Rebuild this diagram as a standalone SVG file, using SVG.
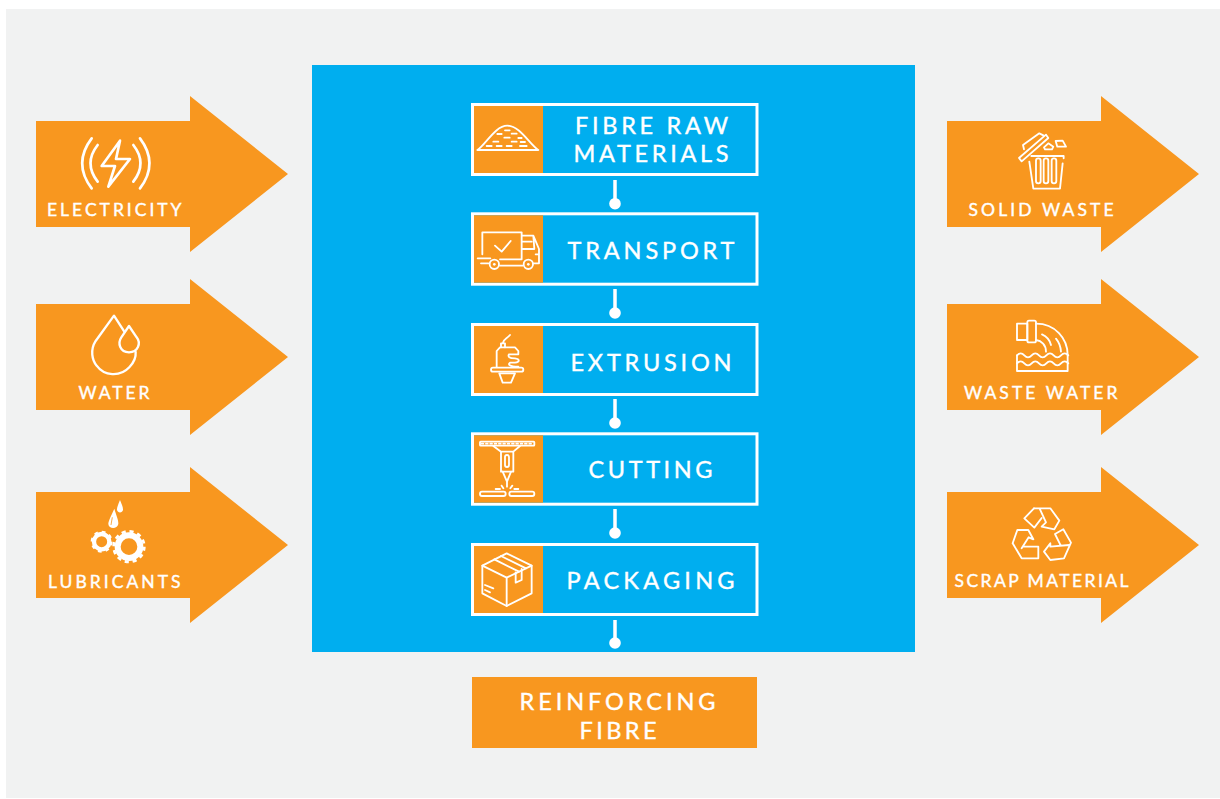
<svg xmlns="http://www.w3.org/2000/svg" width="1220" height="799" viewBox="0 0 1220 799">
<style>
.o{fill:#f8971f}
.t{font-family:"Lato","Liberation Sans",sans-serif;font-weight:400;fill:#fff;stroke:#fff;stroke-width:.4}
.s{font-size:17.5px}
.m{font-size:23.5px}
.i{fill:none;stroke:#fff;stroke-width:7;stroke-linecap:round;stroke-linejoin:round}
.i2{fill:none;stroke:#fff;stroke-width:5.5;stroke-linecap:round;stroke-linejoin:round}
.f{fill:#fff;stroke:none}
.frame{fill:#00aeef;stroke:#fff;stroke-width:3}
.c{stroke:#fff;stroke-width:3.5;fill:none}
</style>
<defs>
<polygon id="arrow" points="0,25 154,25 154,0 252,78 154,156 154,131 0,131"/>
</defs>
<rect width="1220" height="799" fill="#fff"/>
<rect x="6" y="9" width="1214" height="789" fill="#f1f2f2"/>
<rect id="process-area" x="312" y="65" width="603" height="587" fill="#00aeef"/>

<g id="electricity">
<use href="#arrow" class="o" x="36" y="96"/>
<g transform="translate(30 90) scale(.3333)" class="i" style="stroke-width:8">
<path d="M270 152 215 228H255L235 290 300 207H258Z"/>
<path d="M185 145Q128 220 185 295M203 165Q160 220 203 275M330 145Q387 220 330 295M310 165Q353 220 310 275"/>
</g>
<text class="t s" x="47" y="216" textLength="134.5">ELECTRICITY</text>
</g>

<g id="water">
<use href="#arrow" class="o" x="36" y="279"/>
<g transform="translate(30 280) scale(.3333)" class="i">
<path d="M283 155 252 107 197 183C180 210 186 240 200 257 222 288 270 292 298 262 315 244 318 228 317 216"/>
<path d="M297 138 274 172C262 190 270 216 297 217 324 216 334 190 320 172Z"/>
</g>
<text class="t s" x="78.5" y="399" textLength="71">WATER</text>
</g>

<g id="lubricants">
<use href="#arrow" class="o" x="36" y="467"/>
<g transform="translate(30 280) scale(.3333)">
<path class="f" d="M270 660C264 675 260 685 261 690 263 700 277 700 279 690 280 684 275 672 270 660Z"/>
<path class="f" d="M253 686C245 705 235 722 235 732 236 748 262 749 265 732 266 720 258 704 253 686Z"/>
<path d="M247 712 243 735" stroke="#f8971f" stroke-width="2.5" fill="none"/>
<circle cx="215" cy="785" r="23" fill="none" stroke="#fff" stroke-width="13"/>
<circle cx="215" cy="785" r="30" fill="none" stroke="#fff" stroke-width="6" stroke-dasharray="11 12.5"/>
<circle cx="297" cy="800" r="34" fill="none" stroke="#fff" stroke-width="18"/>
<circle cx="297" cy="800" r="46" fill="none" stroke="#fff" stroke-width="8" stroke-dasharray="12.5 11.6"/>
</g>
<text class="t s" x="48" y="587.5" textLength="132.5">LUBRICANTS</text>
</g>

<g id="solid-waste">
<use href="#arrow" class="o" x="947" y="96"/>
<g transform="translate(940 90) scale(.3333)" class="i2">
<path d="M237 204 318 134 325 144 245 214Z"/>
<path d="M252 178 249 165 298 130 310 136"/>
<path d="M274 198H371V205M268 215 280 296H360L368 220"/>
<rect x="288" y="205" width="14" height="75" rx="7"/>
<rect x="311" y="205" width="14" height="75" rx="7"/>
<rect x="335" y="205" width="14" height="75" rx="7"/>
<path d="M312 172 325 160 340 170 336 178H315ZM347 153 368 152 378 170 352 170Z"/>
</g>
<text class="t s" x="968.5" y="216" textLength="145">SOLID WASTE</text>
</g>

<g id="waste-water">
<use href="#arrow" class="o" x="947" y="279"/>
<g transform="translate(940 280) scale(.3333)" class="i2">
<rect x="231" y="131" width="31" height="49"/>
<rect x="262" y="122" width="26" height="65" rx="5"/>
<path d="M288 131C345 131 383 175 383 225M288 180C305 182 318 195 318 215"/>
<path d="M306 163C322 170 330 182 333 195M348 176C358 188 362 200 363 215"/>
<path d="M231 226q11 -12 22 0t22 0t22 0t22 0t22 0t22 0t22 0"/>
<path d="M231 250q11 -12 22 0t22 0t22 0t22 0t22 0t22 0t22 0"/>
<path d="M231 226V273H383V226"/>
</g>
<text class="t s" x="964" y="399" textLength="153.5">WASTE WATER</text>
</g>

<g id="scrap-material">
<use href="#arrow" class="o" x="947" y="467"/>
<g transform="translate(940 280) scale(.3333)" class="i2">
<path d="M305 714 283 743 253 715 282 685"/>
<path d="M282 685H331L358 722 343 748 305 740 318 727 300 688"/>
<path d="M218 790 232 750H265L280 778 266 772 245 805M218 790 245 835H295V800H250"/>
<path d="M345 762 370 748 393 788 372 835 331 840 312 815 331 790 331 800 388 795M345 762 362 796"/>
</g>
<text class="t s" x="954.5" y="587" textLength="174">SCRAP MATERIAL</text>
</g>

<g id="connectors">
<path class="c" d="M615 180V204M615 289V313M615 399V423M615 509V533M615 620V643"/>
<g fill="#fff">
<circle cx="615" cy="203.7" r="5.8"/>
<circle cx="615" cy="313" r="5.8"/>
<circle cx="615" cy="423" r="5.8"/>
<circle cx="615" cy="533" r="5.8"/>
<circle cx="615" cy="643" r="5.8"/>
</g>
</g>

<g id="fibre-raw-materials">
<rect class="frame" x="472.5" y="104.5" width="284.5" height="70"/>
<rect class="o" x="474" y="106" width="69" height="67"/>
<g transform="translate(465 95) scale(.3333)" class="i2">
<path d="M37 165C62 150 90 92 127 92 165 92 195 150 220 165Z"/>
<path d="M120 106H134M97 117H110M140 116H155M118 128H134M160 129H170M85 140H100M140 140H155M167 141H180M65 153H80M95 153H110M125 153H140M165 153H185"/>
</g>
<text class="t m" x="575" y="133.5" textLength="153">FIBRE RAW</text>
<text class="t m" x="573.5" y="162" textLength="155">MATERIALS</text>
</g>

<g id="transport">
<rect class="frame" x="472.5" y="213.8" width="284.5" height="70.4"/>
<rect class="o" x="474" y="215.3" width="69" height="67.4"/>
<g transform="translate(465 95) scale(.3333)" class="i2">
<path d="M52 478V412H170V493M105 493H170M38 490H76M48 505H70M105 512H172"/>
<path d="M172 422H205L222 462V505H206M172 440H200M205 422 208 462H172M212 478H222"/>
<circle cx="88" cy="508" r="14"/><circle cx="190" cy="508" r="14"/>
<circle class="f" cx="88" cy="508" r="4"/><circle class="f" cx="190" cy="508" r="4"/>
<path d="M90 452 110 470 137 438"/>
</g>
<text class="t m" x="567.5" y="258.5" textLength="167">TRANSPORT</text>
</g>

<g id="extrusion">
<rect class="frame" x="472.5" y="324.5" width="284.5" height="70"/>
<rect class="o" x="474" y="326" width="69" height="67"/>
<g transform="translate(465 315) scale(.3333)" class="i2">
<path d="M113 85C116 70 125 72 135 60M108 97V85H120V97"/>
<path d="M95 155V108L105 97H150L160 108V118H132C128 125 132 130 150 130 165 132 165 142 150 143H135C128 148 132 155 160 155"/>
<rect x="78" y="158" width="97" height="12" rx="6"/>
<path d="M103 175H150L138 203H113Z"/>
</g>
<text class="t m" x="570.5" y="371" textLength="161">EXTRUSION</text>
</g>

<g id="cutting">
<rect class="frame" x="472.5" y="433.8" width="284.5" height="70.4"/>
<rect class="o" x="474" y="435.3" width="69" height="67.4"/>
<g transform="translate(465 315) scale(.3333)" class="i2">
<rect x="45" y="380" width="163" height="12" rx="2"/>
<path stroke-dasharray="5 8" d="M50 386H205"/>
<path d="M85 393 108 410H145L165 393M108 410V470H145V410"/>
<rect x="120" y="420" width="12" height="36" rx="6"/>
<path d="M113 470 126 500 138 470M126 500V515"/>
<rect x="45" y="530" width="77" height="13" rx="6"/>
<rect x="133" y="530" width="75" height="13" rx="6"/>
<path d="M92 522H105M110 512 115 520M142 512 136 520M148 522H160"/>
</g>
<text class="t m" x="588.5" y="478" textLength="124">CUTTING</text>
</g>

<g id="packaging">
<rect class="frame" x="472.5" y="544.5" width="284.5" height="70"/>
<rect class="o" x="474" y="546" width="69" height="67"/>
<g transform="translate(465 535) scale(.3333)" class="i2">
<path d="M125 55 200 92V175L125 213 52 175V92Z"/>
<path d="M52 92 125 128 200 92M125 128V213"/>
<path d="M88 73 162 110M108 63 183 100"/>
<path d="M152 112V143L170 135V102"/>
<path d="M60 150 85 160M60 165 75 172"/>
</g>
<text class="t m" x="566.5" y="589" textLength="168">PACKAGING</text>
</g>

<g id="reinforcing-fibre">
<rect class="o" x="472" y="677" width="285" height="71"/>
<text class="t m" x="519.5" y="709.5" textLength="196">REINFORCING</text>
<text class="t m" x="579.5" y="739" textLength="77">FIBRE</text>
</g>
</svg>
